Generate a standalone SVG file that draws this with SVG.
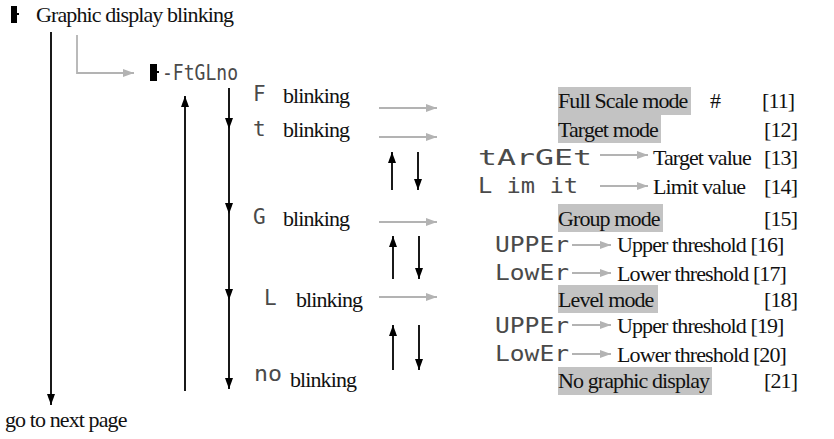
<svg xmlns="http://www.w3.org/2000/svg" width="834" height="439" viewBox="0 0 834 439">
<style>
.t{font-family:"Liberation Serif","Times New Roman",serif;font-size:22px;fill:#111;letter-spacing:-0.9px}
.seg{font-family:"DejaVu Sans Mono",monospace;font-size:21px;fill:#4a4a4a}
.box{fill:#c3c3c3}
.bl{stroke:#000;stroke-width:1.8;fill:none}
.gr{stroke:#b3b3b3;stroke-width:1.8;fill:none}
</style>
<defs>
<marker id="ag" markerUnits="userSpaceOnUse" markerWidth="11" markerHeight="8" refX="11" refY="4" orient="auto" viewBox="0 0 11 8"><path d="M0,0 L11,4 L0,8 z" fill="#b3b3b3"/></marker>
<marker id="ak" markerUnits="userSpaceOnUse" markerWidth="11" markerHeight="8" refX="11" refY="4" orient="auto" viewBox="0 0 11 8"><path d="M0,0 L11,4 L0,8 z" fill="#000"/></marker>
</defs>

<g id="start">
<rect x="11" y="6" width="6" height="17" fill="#000"/>
<rect x="17" y="13" width="2" height="2" fill="#000"/>
<text class="t" x="36" y="22">Graphic display blinking</text>
</g>
<g id="next"><text class="t" x="5" y="427">go to next page</text></g>
<g id="menu">
<rect x="150" y="64" width="7" height="17" fill="#000"/>
<rect x="157" y="71" width="2" height="2" fill="#000"/>
<text class="seg" x="162" y="80" textLength="76" lengthAdjust="spacingAndGlyphs">-FtGLno</text>
</g>

<g id="f-row">
<text class="seg" x="253" y="101">F</text>
<text class="t" x="283" y="103">blinking</text>
</g>
<g id="t-row">
<text class="seg" x="253" y="136">t</text>
<text class="t" x="283" y="137">blinking</text>
</g>
<g id="fullscale">
<rect class="box" x="558" y="87" width="133" height="28"/>
<text class="t" x="558" y="108">Full Scale mode</text>
<text class="t" x="710" y="108">#</text>
<text class="t" x="762" y="108">[11]</text>
</g>
<g id="target">
<rect class="box" x="558" y="115" width="103" height="28"/>
<text class="t" x="558" y="137">Target mode</text>
<text class="t" x="764" y="137">[12]</text>
</g>
<g id="target-value">
<text class="seg" x="478" y="165" textLength="114" lengthAdjust="spacingAndGlyphs">tArGEt</text>
<text class="t" x="653" y="165">Target value</text>
<text class="t" x="764" y="165">[13]</text>
</g>
<g id="limit-value">
<text class="seg" x="478" y="193" textLength="100" lengthAdjust="spacingAndGlyphs" xml:space="preserve">L im it</text>
<text class="t" x="653" y="194">Limit value</text>
<text class="t" x="764" y="194">[14]</text>
</g>

<g id="g-row">
<text class="seg" x="253" y="224">G</text>
<text class="t" x="283" y="226">blinking</text>
</g>
<g id="group">
<rect class="box" x="558" y="204" width="105" height="28"/>
<text class="t" x="558" y="226">Group mode</text>
<text class="t" x="764" y="226">[15]</text>
</g>
<g id="g-upper">
<text class="seg" x="495" y="252" textLength="74" lengthAdjust="spacingAndGlyphs">UPPEr</text>
<text class="t" x="617" y="252">Upper threshold [16]</text>
</g>
<g id="g-lower">
<text class="seg" x="495" y="280" textLength="74" lengthAdjust="spacingAndGlyphs">LowEr</text>
<text class="t" x="617" y="281">Lower threshold [17]</text>
</g>

<g id="l-row">
<text class="seg" x="264" y="305">L</text>
<text class="t" x="296" y="307">blinking</text>
</g>
<g id="level">
<rect class="box" x="558" y="285" width="100" height="28"/>
<text class="t" x="558" y="307">Level mode</text>
<text class="t" x="764" y="307">[18]</text>
</g>
<g id="l-upper">
<text class="seg" x="495" y="333" textLength="74" lengthAdjust="spacingAndGlyphs">UPPEr</text>
<text class="t" x="617" y="333">Upper threshold [19]</text>
</g>
<g id="l-lower">
<text class="seg" x="495" y="361" textLength="74" lengthAdjust="spacingAndGlyphs">LowEr</text>
<text class="t" x="617" y="362">Lower threshold [20]</text>
</g>

<g id="no-row">
<text class="seg" x="254" y="381" textLength="28" lengthAdjust="spacingAndGlyphs">no</text>
<text class="t" x="290" y="387">blinking</text>
</g>
<g id="nographic">
<rect class="box" x="558" y="367" width="154" height="28"/>
<text class="t" x="558" y="388">No graphic display</text>
<text class="t" x="764" y="388">[21]</text>
</g>

<g id="connectors">
<line class="bl" x1="51" y1="32" x2="51" y2="405" marker-end="url(#ak)"/>
<path class="gr" d="M77,35 V73 H134" marker-end="url(#ag)"/>
<line class="bl" x1="185" y1="391" x2="185" y2="96" marker-end="url(#ak)"/>
<line class="bl" x1="229" y1="88" x2="229" y2="129" marker-end="url(#ak)"/>
<line class="bl" x1="229" y1="129" x2="229" y2="214" marker-end="url(#ak)"/>
<line class="bl" x1="229" y1="214" x2="229" y2="300" marker-end="url(#ak)"/>
<line class="bl" x1="229" y1="300" x2="229" y2="389" marker-end="url(#ak)"/>
<line class="gr" x1="379" y1="108" x2="437" y2="108" marker-end="url(#ag)"/>
<line class="gr" x1="379" y1="137" x2="437" y2="137" marker-end="url(#ag)"/>
<line class="gr" x1="379" y1="222" x2="437" y2="222" marker-end="url(#ag)"/>
<line class="gr" x1="379" y1="297" x2="437" y2="297" marker-end="url(#ag)"/>
<line class="bl" x1="392" y1="190" x2="392" y2="152" marker-end="url(#ak)"/>
<line class="bl" x1="418" y1="152" x2="418" y2="190" marker-end="url(#ak)"/>
<line class="bl" x1="393" y1="279" x2="393" y2="236" marker-end="url(#ak)"/>
<line class="bl" x1="419" y1="236" x2="419" y2="279" marker-end="url(#ak)"/>
<line class="bl" x1="393" y1="370" x2="393" y2="325" marker-end="url(#ak)"/>
<line class="bl" x1="419" y1="325" x2="419" y2="370" marker-end="url(#ak)"/>
<line class="gr" x1="600" y1="155" x2="648" y2="155" marker-end="url(#ag)"/>
<line class="gr" x1="600" y1="186" x2="648" y2="186" marker-end="url(#ag)"/>
<line class="gr" x1="572" y1="245" x2="611" y2="245" marker-end="url(#ag)"/>
<line class="gr" x1="572" y1="273" x2="611" y2="273" marker-end="url(#ag)"/>
<line class="gr" x1="572" y1="325" x2="611" y2="325" marker-end="url(#ag)"/>
<line class="gr" x1="572" y1="354" x2="611" y2="354" marker-end="url(#ag)"/>
</g>
</svg>
